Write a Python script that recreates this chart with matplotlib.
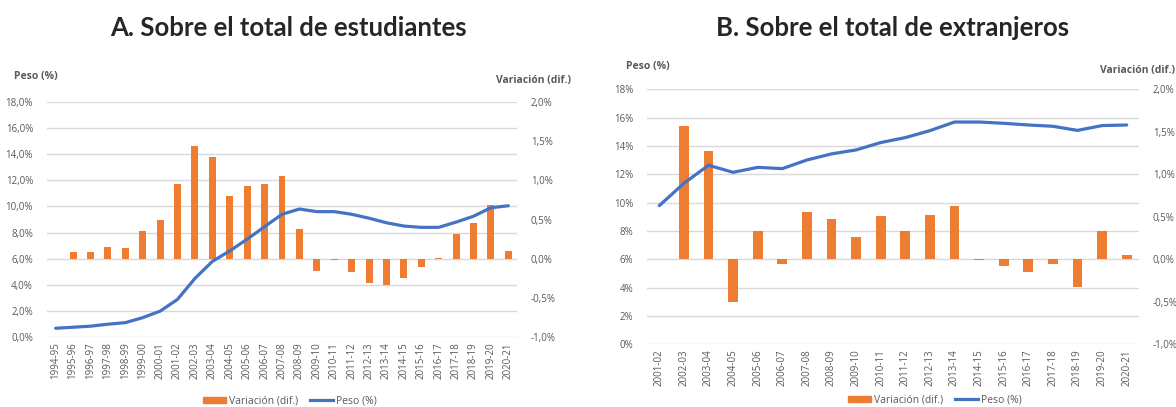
import matplotlib
matplotlib.use("Agg")
import matplotlib.pyplot as plt
from matplotlib.patches import Patch
from matplotlib.lines import Line2D
from matplotlib.ticker import FuncFormatter

# ---------------- data ----------------
cursos_a = ["1994-95", "1995-96", "1996-97", "1997-98", "1998-99", "1999-00", "2000-01",
            "2001-02", "2002-03", "2003-04", "2004-05", "2005-06", "2006-07", "2007-08",
            "2008-09", "2009-10", "2010-11", "2011-12", "2012-13", "2013-14", "2014-15",
            "2015-16", "2016-17", "2017-18", "2018-19", "2019-20", "2020-21"]
peso_a = [0.69, 0.77, 0.85, 1.0, 1.12, 1.5, 2.0, 2.9, 4.5, 5.8, 6.6, 7.5, 8.45, 9.4,
          9.8, 9.6, 9.6, 9.4, 9.1, 8.75, 8.5, 8.4, 8.4, 8.8, 9.25, 9.9, 10.05]
var_a = [None, 0.08, 0.085, 0.145, 0.137, 0.35, 0.50, 0.95, 1.44, 1.29, 0.80, 0.925,
         0.95, 1.05, 0.38, -0.16, -0.02, -0.17, -0.31, -0.34, -0.24, -0.11, 0.01,
         0.32, 0.45, 0.69, 0.10]

cursos_b = ["2001-02", "2002-03", "2003-04", "2004-05", "2005-06", "2006-07", "2007-08",
            "2008-09", "2009-10", "2010-11", "2011-12", "2012-13", "2013-14", "2014-15",
            "2015-16", "2016-17", "2017-18", "2018-19", "2019-20", "2020-21"]
peso_b = [9.79, 11.36, 12.64, 12.14, 12.49, 12.4, 13.01, 13.44, 13.72, 14.24, 14.59,
          15.08, 15.69, 15.69, 15.6, 15.48, 15.39, 15.1, 15.44, 15.48]
var_b = [None, 1.57, 1.27, -0.50, 0.33, -0.055, 0.56, 0.48, 0.26, 0.51, 0.33, 0.52,
         0.63, -0.005, -0.08, -0.15, -0.055, -0.33, 0.33, 0.055]

titulo_a = "A. Sobre el total de estudiantes"
titulo_b = "B. Sobre el total de extranjeros"
lbl_peso = "Peso (%)"
lbl_var = "Variación (dif.)"

# ---------------- style ----------------
ORANGE = "#ED7D31"
BLUE = "#4472C4"
GRID = "#D9D9D9"
TXT = "#595959"
FONT = ["Open Sans", "DejaVu Sans"]
plt.rcParams["font.family"] = FONT

W, H = 1176, 407
fig = plt.figure(figsize=(W / 100, H / 100), dpi=100)


def frac(x0, x1, ytop, ybot):
    return [x0 / W, (H - ybot) / H, (x1 - x0) / W, (ybot - ytop) / H]


def comma(v, dec):
    s = f"{v:.{dec}f}".replace(".", ",")
    return s + "%"


def panel(rect, cats, peso, var, left_dec, bar_w):
    ax = fig.add_axes(rect)
    ax2 = ax.twinx()
    n = len(cats)
    x = list(range(n))
    ax2.set_zorder(1)
    ax.set_zorder(2)
    ax.patch.set_visible(False)
    ax2.set_ylim(-1, 2)
    ax.set_ylim(0, 18)
    for g in range(0, 20, 2):
        ax2.axhline(g / 6 - 1, color=GRID, lw=1.0, zorder=0)
    xs = [i for i, v in zip(x, var) if v is not None]
    vs = [v for v in var if v is not None]
    ax2.bar(xs, vs, width=bar_w, color=ORANGE, zorder=2)
    ax.plot(x, peso, color=BLUE, lw=2.3, solid_capstyle="round")
    for a in (ax, ax2):
        a.set_xlim(-0.5, n - 0.5)
        for s in a.spines.values():
            s.set_visible(False)
        a.tick_params(length=0, colors=TXT, labelsize=7)
    ax.set_yticks(range(0, 20, 2))
    ax.yaxis.set_major_formatter(FuncFormatter(lambda v, p: comma(v, left_dec)))
    ax2.set_yticks([-1, -0.5, 0, 0.5, 1, 1.5, 2])
    ax2.yaxis.set_major_formatter(FuncFormatter(lambda v, p: comma(v, 1)))
    ax.set_xticks(x)
    ax.set_xticklabels(cats, rotation=90, fontsize=7, color=TXT)
    ax.tick_params(axis="y", pad=10)
    ax2.tick_params(axis="y", pad=10)
    return ax, ax2


axA, axA2 = panel(frac(47, 517, 101.7, 337.3), cursos_a, peso_a, var_a, 1, 0.4)
axB, axB2 = panel(frac(647, 1139, 89.3, 344.3), cursos_b, peso_b, var_b, 0, 0.4)

# titles
fig.text(288 / W, 1 - 28 / H, titulo_a, ha="center", va="center", fontsize=18.5,
         fontweight="bold", color="#262626", family=["Lato", "DejaVu Sans"])
fig.text(893 / W, 1 - 28 / H, titulo_b, ha="center", va="center", fontsize=18.5,
         fontweight="bold", color="#262626", family=["Lato", "DejaVu Sans"])

# axis captions
fig.text(14 / W, 1 - 77 / H, lbl_peso, ha="left", va="center", fontsize=7.5,
         fontweight="bold", color=TXT)
fig.text(571 / W, 1 - 81 / H, lbl_var, ha="right", va="center", fontsize=7.5,
         fontweight="bold", color=TXT)
fig.text(626 / W, 1 - 67 / H, lbl_peso, ha="left", va="center", fontsize=7.5,
         fontweight="bold", color=TXT)
fig.text(1175 / W, 1 - 70 / H, lbl_var, ha="right", va="center", fontsize=7.5,
         fontweight="bold", color=TXT)

# legends
handles = [Patch(color=ORANGE, label=lbl_var), Line2D([], [], color=BLUE, lw=2.3, label=lbl_peso)]
for cx, cy in ((290, 401), (935, 400)):
    fig.legend(handles=handles, loc="center", bbox_to_anchor=(cx / W, 1 - cy / H), ncol=2,
               frameon=False, fontsize=7.5, labelcolor=TXT, handlelength=2.2, handleheight=0.6,
               columnspacing=1.2, handletextpad=0.3)

fig.savefig("out.png", dpi=100)
